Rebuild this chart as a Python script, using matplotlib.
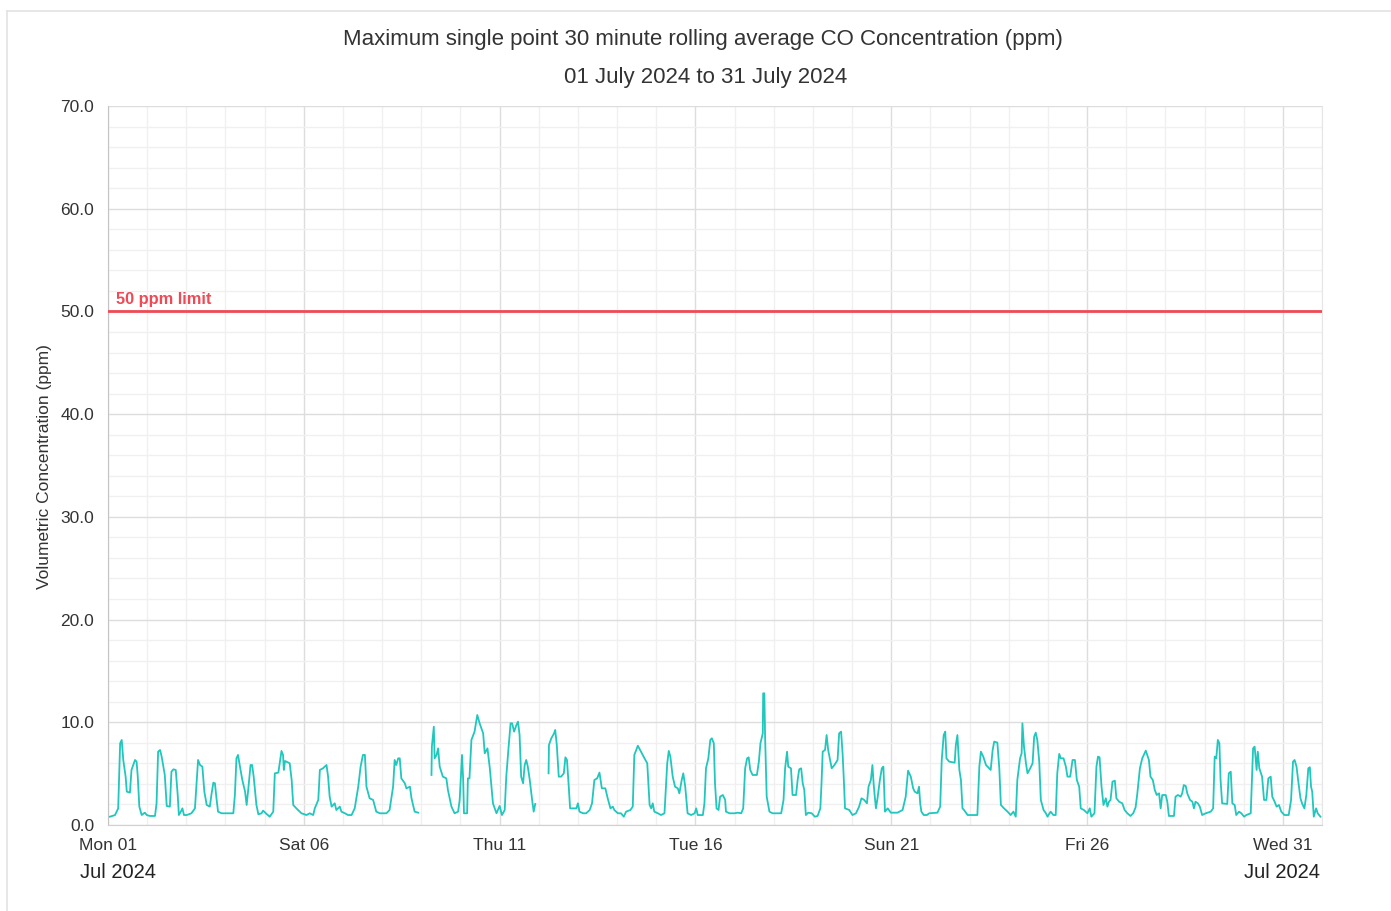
import numpy as np
import pandas as pd
import matplotlib
matplotlib.use("Agg")
import matplotlib.pyplot as plt
import matplotlib.dates as mdates
from matplotlib.ticker import MultipleLocator, FormatStrFormatter
from matplotlib.lines import Line2D

plt.rcParams["font.family"] = ["Liberation Sans", "DejaVu Sans"]

# days since 01 July 2024 00:00, and CO (ppm); NaN marks a gap in the record
day_offset = [
    0.05, 0.18, 0.26, 0.31, 0.35, 0.39, 0.45, 0.48, 0.56, 0.60, 0.69, 0.73, 0.76, 0.80, 0.86, 0.94, 0.99,
    1.07, 1.20, 1.24, 1.28, 1.33, 1.37, 1.45, 1.50, 1.58, 1.62, 1.67, 1.73, 1.78, 1.81, 1.86, 1.90, 1.94,
    2.01, 2.13, 2.22, 2.26, 2.30, 2.35, 2.41, 2.46, 2.52, 2.60, 2.64, 2.69, 2.73, 2.77, 2.81, 2.90,
    3.20, 3.24, 3.28, 3.32, 3.37, 3.43, 3.50, 3.54, 3.58, 3.64, 3.68, 3.72, 3.79, 3.84, 3.92, 3.96,
    4.05, 4.13, 4.22, 4.26, 4.35, 4.39, 4.43, 4.47, 4.49, 4.52, 4.64, 4.69, 4.73, 4.81, 4.94,
    5.07, 5.15, 5.24, 5.28, 5.37, 5.41, 5.49, 5.58, 5.62, 5.66, 5.71, 5.79, 5.83, 5.92, 5.96,
    6.05, 6.13, 6.22, 6.30, 6.39, 6.45, 6.51, 6.56, 6.60, 6.68, 6.77, 6.85, 6.94,
    7.11, 7.19, 7.28, 7.32, 7.36, 7.41, 7.45, 7.49, 7.58, 7.62, 7.71, 7.75, 7.83, 7.92, 8.09,
    8.26, 8.27, 8.32, 8.34, 8.39, 8.43, 8.47, 8.55, 8.64, 8.68, 8.77, 8.85, 8.94, 8.98,
    9.04, 9.07, 9.09, 9.17, 9.19, 9.23, 9.28, 9.36, 9.43, 9.49, 9.58, 9.62, 9.69, 9.75, 9.83, 9.92,
    10.00, 10.06, 10.13, 10.17, 10.23, 10.28, 10.32, 10.37, 10.43, 10.47, 10.51, 10.55, 10.60, 10.64,
    10.68, 10.72, 10.77, 10.83, 10.87, 10.91, 11.08,
    11.25, 11.26, 11.32, 11.39, 11.42, 11.46, 11.51, 11.57, 11.64, 11.68, 11.72, 11.76, 11.80, 11.87, 11.96,
    12.00, 12.04, 12.13, 12.21, 12.30, 12.36, 12.42, 12.49, 12.55, 12.61, 12.70, 12.76, 12.83, 12.89, 12.93,
    13.02, 13.10, 13.17, 13.23, 13.34, 13.40, 13.44, 13.53, 13.61, 13.70, 13.77, 13.83, 13.87, 13.91, 13.95,
    14.04, 14.12, 14.21, 14.28, 14.32, 14.36, 14.42, 14.48, 14.55, 14.59, 14.65, 14.69, 14.74, 14.80, 14.89,
    14.98, 15.02, 15.06, 15.19, 15.23, 15.27, 15.33, 15.38, 15.42, 15.47, 15.50, 15.54, 15.59, 15.63,
    15.70, 15.76, 15.78, 15.87, 16.00, 16.08, 16.17, 16.22, 16.27, 16.32, 16.36, 16.40, 16.46, 16.57,
    16.62, 16.66, 16.72, 16.73, 16.76, 16.78, 16.82, 16.89, 16.97, 17.19, 17.25, 17.29, 17.34, 17.37,
    17.44, 17.48, 17.57, 17.61, 17.65, 17.70, 17.74, 17.78, 17.82, 17.88, 17.97, 18.05, 18.12, 18.19,
    18.22, 18.25, 18.31, 18.35, 18.39, 18.44, 18.48, 18.55, 18.63, 18.67, 18.72, 18.76, 18.79, 18.82,
    18.93, 19.01, 19.10, 19.18, 19.24, 19.31, 19.38, 19.42, 19.48, 19.52, 19.55, 19.58, 19.61, 19.65,
    19.71, 19.76, 19.80, 19.84, 19.91, 19.99, 20.16, 20.29, 20.37, 20.43, 20.50, 20.56, 20.60, 20.67,
    20.71, 20.74, 20.77, 20.83, 20.91, 20.97, 21.18, 21.25, 21.29, 21.34, 21.38, 21.41, 21.48, 21.62,
    21.65, 21.69, 21.74, 21.78, 21.82, 21.86, 21.95, 22.20, 22.25, 22.29, 22.35, 22.42, 22.50, 22.54,
    22.59, 22.63, 22.71, 22.76, 22.80, 22.88, 22.97, 23.05, 23.12, 23.18, 23.22, 23.29, 23.33, 23.35,
    23.39, 23.44, 23.48, 23.55, 23.61, 23.65, 23.69, 23.73, 23.78, 23.82, 23.89, 23.95, 23.99, 24.07,
    24.14, 24.20, 24.24, 24.29, 24.33, 24.40, 24.46, 24.50, 24.57, 24.63, 24.69, 24.74, 24.80, 24.84,
    24.92, 25.01, 25.07, 25.11, 25.19, 25.24, 25.28, 25.32, 25.37, 25.42, 25.48, 25.52, 25.56, 25.60,
    25.65, 25.71, 25.75, 25.82, 25.90, 25.96, 26.03, 26.11, 26.18, 26.24, 26.28, 26.35, 26.41, 26.50,
    26.58, 26.62, 26.68, 26.73, 26.78, 26.84, 26.88, 26.92, 27.01, 27.05, 27.09, 27.22, 27.26, 27.32,
    27.39, 27.43, 27.47, 27.52, 27.56, 27.63, 27.69, 27.73, 27.77, 27.83, 27.88, 27.94, 28.03, 28.16,
    28.22, 28.26, 28.30, 28.34, 28.38, 28.41, 28.45, 28.58, 28.62, 28.67, 28.71, 28.77, 28.81, 28.88,
    28.94, 29.01, 29.07, 29.18, 29.24, 29.28, 29.33, 29.36, 29.40, 29.47, 29.52, 29.58, 29.63, 29.69,
    29.73, 29.79, 29.84, 29.90, 29.96, 30.04, 30.15, 30.21, 30.26, 30.30, 30.35, 30.39, 30.45, 30.49,
    30.55, 30.60, 30.65, 30.69, 30.72, 30.75, 30.79, 30.85, 30.89, 30.96,
]
co_ppm = [
    0.81, 0.97, 1.62, 7.95, 8.28, 6.33, 4.71, 3.25, 3.15, 5.36, 6.33, 6.17, 4.71, 1.79, 0.97, 1.20, 0.97,
    0.88, 0.88, 2.11, 7.14, 7.30, 6.66, 4.87, 1.85, 1.79, 5.19, 5.42, 5.36, 2.92, 0.97, 1.30, 1.62, 0.97,
    0.97, 1.14, 1.62, 4.06, 6.33, 5.84, 5.68, 3.25, 1.95, 1.79, 2.92, 4.12, 4.06, 2.60, 1.30, 1.14,
    1.14, 2.92, 6.49, 6.82, 5.68, 4.38, 3.25, 1.95, 3.41, 5.84, 5.84, 4.71, 1.95, 1.04, 1.14, 1.40,
    1.07, 0.81, 1.30, 5.03, 5.10, 6.17, 7.21, 6.82, 5.36, 6.23, 6.01, 4.38, 1.95, 1.62, 1.14,
    0.97, 1.14, 0.97, 1.62, 2.44, 5.36, 5.52, 5.84, 4.71, 2.76, 1.79, 2.11, 1.46, 1.79, 1.30,
    1.14, 0.97, 0.97, 1.62, 3.73, 5.68, 6.82, 6.82, 3.73, 2.60, 2.44, 1.30, 1.14,
    1.14, 1.46, 3.73, 6.33, 5.84, 6.49, 6.49, 4.54, 4.06, 3.57, 3.73, 2.60, 1.30, 1.20, np.nan,
    4.87, 7.63, 9.57, 6.49, 6.82, 7.46, 5.68, 4.71, 4.54, 3.41, 1.79, 1.14, 1.30, 2.44,
    6.82, 4.38, 1.14, 1.14, 4.54, 4.54, 8.28, 9.09, 10.71, 9.90, 8.92, 6.98, 7.46, 5.52, 2.11, 1.14,
    1.85, 0.97, 1.46, 4.71, 7.63, 9.90, 9.90, 9.09, 9.74, 10.06, 8.76, 4.71, 4.06, 5.84,
    6.33, 5.68, 4.38, 2.44, 1.30, 2.05, np.nan,
    5.03, 7.79, 8.44, 8.92, 9.25, 7.79, 4.71, 4.71, 5.03, 6.59, 6.33, 4.06, 1.62, 1.62, 1.62,
    2.11, 1.30, 1.14, 1.14, 1.46, 2.11, 4.38, 4.54, 5.10, 3.57, 3.57, 2.60, 1.62, 1.79, 1.46,
    1.14, 1.14, 0.81, 1.30, 1.46, 1.79, 6.82, 7.72, 7.14, 6.49, 6.01, 1.95, 1.62, 2.11, 1.30,
    1.14, 0.97, 1.14, 6.01, 7.21, 6.66, 4.71, 3.73, 3.57, 3.08, 4.38, 5.03, 3.73, 1.14, 0.97,
    1.14, 1.62, 0.97, 0.97, 2.11, 5.52, 6.49, 8.28, 8.44, 7.95, 4.06, 1.62, 1.46, 2.76,
    2.92, 2.44, 1.30, 1.14, 1.14, 1.20, 1.14, 1.62, 5.52, 6.49, 6.59, 5.36, 4.87, 4.87,
    6.17, 7.95, 8.92, 12.82, 12.82, 8.44, 2.76, 1.30, 1.14, 1.14, 2.44, 5.52, 7.14, 5.68,
    5.52, 2.92, 2.92, 4.38, 5.42, 5.52, 4.06, 3.41, 0.97, 1.20, 1.14, 0.81, 0.88, 1.62,
    4.06, 7.14, 7.30, 8.76, 7.30, 6.33, 5.52, 5.84, 6.33, 8.92, 9.09, 6.82, 4.38, 1.62,
    1.46, 0.97, 1.14, 1.79, 2.60, 2.44, 2.11, 3.73, 4.38, 5.84, 4.06, 2.76, 1.62, 2.60,
    4.38, 5.52, 5.68, 1.30, 1.62, 1.20, 1.20, 1.46, 2.76, 5.29, 4.71, 3.57, 3.25, 3.08,
    3.73, 2.11, 1.30, 0.97, 0.97, 1.14, 1.20, 1.79, 6.33, 8.76, 9.09, 6.49, 6.17, 6.07,
    7.79, 8.76, 5.36, 4.38, 1.62, 1.46, 0.97, 0.97, 5.68, 7.14, 6.66, 5.84, 5.52, 5.36,
    7.30, 8.12, 8.02, 5.52, 1.95, 1.62, 1.30, 0.97, 1.30, 0.81, 4.38, 6.49, 6.98, 9.90,
    7.63, 6.01, 5.03, 5.52, 6.01, 8.60, 8.99, 8.28, 6.17, 2.44, 1.46, 1.14, 0.81, 1.30,
    0.97, 0.97, 5.03, 6.92, 6.49, 6.49, 5.68, 4.71, 4.71, 6.33, 6.33, 4.38, 3.73, 1.62,
    1.46, 1.14, 1.62, 0.81, 1.14, 5.68, 6.66, 6.59, 3.73, 1.95, 2.60, 1.79, 2.27, 2.44,
    4.22, 4.32, 2.60, 2.27, 2.11, 1.46, 1.14, 0.88, 1.14, 1.72, 2.92, 5.52, 6.49, 7.24,
    6.33, 4.71, 4.38, 3.41, 2.92, 3.08, 1.62, 2.92, 2.92, 2.27, 0.88, 0.88, 2.76, 2.92,
    2.76, 3.08, 3.89, 3.80, 3.08, 2.44, 2.27, 1.62, 2.27, 2.11, 1.79, 0.97, 1.14, 1.30,
    1.62, 6.66, 6.49, 8.28, 7.95, 4.38, 2.11, 2.05, 5.03, 5.19, 2.11, 1.95, 0.97, 1.30,
    1.14, 0.81, 0.97, 1.14, 7.46, 7.63, 5.36, 7.14, 5.52, 4.71, 2.44, 2.44, 4.54, 4.71,
    2.76, 2.27, 1.79, 1.95, 1.30, 0.97, 0.97, 2.44, 6.17, 6.33, 5.68, 4.38, 2.60, 2.11,
    1.62, 2.92, 5.52, 5.62, 3.73, 3.25, 0.81, 1.62, 1.14, 0.81,
]
tick_days = ["2024-07-01", "2024-07-06", "2024-07-11", "2024-07-16", "2024-07-21", "2024-07-26", "2024-07-31"]

limit_ppm = 50
start = pd.Timestamp("2024-07-01")
end = pd.Timestamp("2024-08-01")
times = start + pd.to_timedelta(day_offset, unit="D")

fig = plt.figure(figsize=(13.91, 9.11), dpi=100)
ax = fig.add_axes([108 / 1391, 1 - 825 / 911, 1214 / 1391, 719 / 911])

# light outer panel border (top and left edges are visible)
fig.add_artist(Line2D([7 / 1391, 7 / 1391], [0, 1 - 11 / 911], color="#e3e3e3", lw=1.2))
fig.add_artist(Line2D([7 / 1391, 1], [1 - 11 / 911, 1 - 11 / 911], color="#e3e3e3", lw=1.2))

ax.plot(times, co_ppm, color="#1fc7bd", lw=1.3, zorder=3)
ax.axhline(limit_ppm, color="#ef4a55", lw=2.0, zorder=4)
ax.annotate("50 ppm limit", xy=(start, limit_ppm), xytext=(8, 4), textcoords="offset pixels",
            color="#ef4a55", fontsize=11.8, fontweight="bold", va="bottom", ha="left")

ax.set_xlim(start, end)
ax.set_ylim(0, 70)

ax.set_xticks(pd.to_datetime(tick_days))
ax.xaxis.set_major_formatter(mdates.DateFormatter("%a %d"))
ax.xaxis.set_minor_locator(mdates.DayLocator())
ax.yaxis.set_major_locator(MultipleLocator(10))
ax.yaxis.set_minor_locator(MultipleLocator(2))
ax.yaxis.set_major_formatter(FormatStrFormatter("%.1f"))

ax.grid(which="major", color="#dddddd", lw=1.0, zorder=0)
ax.grid(which="minor", color="#f0f0f0", lw=1.0, zorder=0)
ax.set_axisbelow(True)
ax.tick_params(which="both", length=0, labelsize=12.5, labelcolor="#333333")
ax.tick_params(axis="x", pad=9)
ax.tick_params(axis="y", pad=10)

ax.spines["top"].set_visible(False)
ax.spines["right"].set_color("#e6e6e6")
ax.spines["left"].set_color("#c4c4c4")
ax.spines["bottom"].set_color("#d0d0d0")

fig.text(703 / 1391, 1 - 40 / 911, "Maximum single point 30 minute rolling average CO Concentration (ppm)",
         ha="center", va="center", fontsize=16, color="#333333")
fig.text(706 / 1391, 1 - 77 / 911, "01 July 2024 to 31 July 2024",
         ha="center", va="center", fontsize=16, color="#333333")
fig.text(45 / 1391, 1 - 467 / 911, "Volumetric Concentration (ppm)", rotation=90,
         ha="center", va="center", fontsize=12.5, color="#333333")
fig.text(80 / 1391, 1 - 873 / 911, "Jul 2024", ha="left", va="center", fontsize=14.5, color="#222222")
fig.text(1320 / 1391, 1 - 873 / 911, "Jul 2024", ha="right", va="center", fontsize=14.5, color="#222222")

fig.savefig("out.png", dpi=100)
